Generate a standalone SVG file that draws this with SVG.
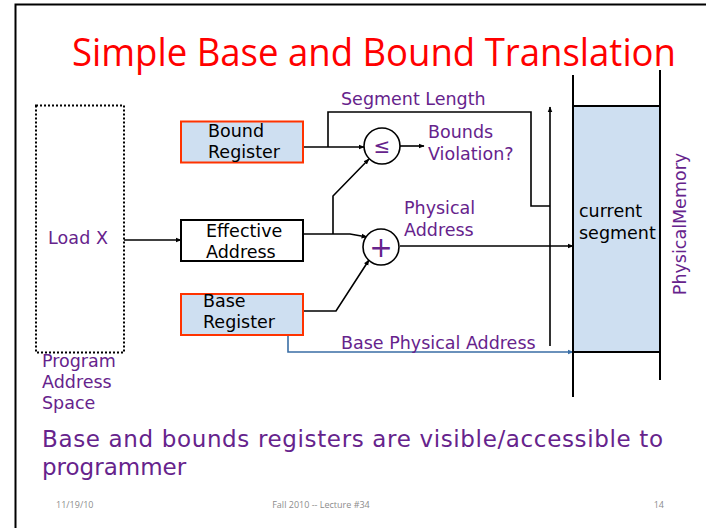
<svg xmlns="http://www.w3.org/2000/svg" width="706" height="528" viewBox="0 0 706 528">
  <defs>
    <marker id="arrow" viewBox="0 0 10 10" refX="9" refY="5" markerWidth="6" markerHeight="6" orient="auto" markerUnits="userSpaceOnUse">
      <path d="M0,1 L10,5 L0,9 z" fill="#000"/>
    </marker>
    <marker id="arrow-blue" viewBox="0 0 10 10" refX="9" refY="5" markerWidth="6" markerHeight="6" orient="auto" markerUnits="userSpaceOnUse">
      <path d="M0,1 L10,5 L0,9 z" fill="#3A6EA5"/>
    </marker>
    <style>
      .frame { fill: none; stroke: #000; stroke-width: 2; }
      .title { font-family: "Open Sans", "Liberation Sans", sans-serif; font-size: 38px; fill: #FF0000; }
      .lbl { font-family: "DejaVu Sans", Verdana, sans-serif; font-size: 17.5px; fill: #66238C; }
      .txt { font-family: "DejaVu Sans", Verdana, sans-serif; font-size: 17.5px; fill: #000; }
      .sym { font-family: "DejaVu Sans", Verdana, sans-serif; fill: #66238C; text-anchor: middle; }
      .body { font-family: "DejaVu Sans", Verdana, sans-serif; font-size: 23px; fill: #66238C; }
      .foot { font-family: "Open Sans", "Liberation Sans", sans-serif; font-size: 9px; fill: #8C8C8C; }
      .reg { fill: #CEDFF1; stroke: #FF3300; stroke-width: 2; }
      .box { fill: #fff; stroke: #000; stroke-width: 2; }
      .wire { fill: none; stroke: #000; stroke-width: 1.6; }
      .op { fill: #fff; stroke: #000; stroke-width: 1.6; }
      .mem { fill: none; stroke: #000; stroke-width: 2; }
    </style>
  </defs>

  <!-- slide frame -->
  <path class="frame" d="M15.5,528 V4.5 H706"/>

  <text class="title" x="72" y="66" textLength="604" lengthAdjust="spacingAndGlyphs">Simple Base and Bound Translation</text>

  <!-- connectors -->
  <g id="connectors">
    <!-- Load X to effective address -->
    <line class="wire" x1="124" y1="240" x2="181" y2="240" marker-end="url(#arrow)"/>
    <!-- bound register to comparator -->
    <line class="wire" x1="303" y1="147" x2="364" y2="147" marker-end="url(#arrow)"/>
    <!-- segment length path to memory bound -->
    <polyline class="wire" points="328,147 328,112 531,112 531,206 550,206"/>
    <!-- upward arrow along memory segment -->
    <line class="wire" x1="550" y1="346" x2="550" y2="107" marker-end="url(#arrow)"/>
    <!-- comparator output -->
    <line class="wire" x1="400" y1="146" x2="424" y2="146" marker-end="url(#arrow)"/>
    <!-- effective address to adder -->
    <polyline class="wire" points="303,234 350,234 367,237" marker-end="url(#arrow)"/>
    <!-- effective address branch to comparator -->
    <polyline class="wire" points="333,234 333,196 369,159" marker-end="url(#arrow)"/>
    <!-- base register to adder -->
    <polyline class="wire" points="303,311 336,311 369,260" marker-end="url(#arrow)"/>
    <!-- adder output to memory -->
    <line class="wire" x1="400" y1="246" x2="573" y2="246" marker-end="url(#arrow)"/>
    <!-- base physical address -->
    <polyline points="288,335 288,352 573,352" fill="none" stroke="#3A6EA5" stroke-width="1.6" marker-end="url(#arrow-blue)"/>
  </g>

  <!-- program address space -->
  <g id="program-space">
    <rect x="36" y="105.5" width="88" height="247" fill="none" stroke="#000" stroke-width="2" stroke-dasharray="2,2"/>
    <text class="lbl" x="48" y="244" textLength="60">Load X</text>
    <text class="lbl" x="42" y="367">Program</text>
    <text class="lbl" x="42" y="388">Address</text>
    <text class="lbl" x="42" y="409">Space</text>
  </g>

  <g id="bound-register">
    <rect class="reg" x="181" y="121.5" width="122" height="41"/>
    <text class="txt" x="208" y="137">Bound</text>
    <text class="txt" x="208" y="158">Register</text>
  </g>

  <g id="effective-address">
    <rect class="box" x="181" y="220" width="122" height="41"/>
    <text class="txt" x="206" y="237">Effective</text>
    <text class="txt" x="206" y="258">Address</text>
  </g>

  <g id="base-register">
    <rect class="reg" x="181" y="294" width="122" height="41"/>
    <text class="txt" x="203" y="307">Base</text>
    <text class="txt" x="203" y="328">Register</text>
  </g>

  <g id="comparator">
    <circle class="op" cx="382" cy="146" r="18"/>
    <text class="sym" x="382" y="153" style="font-size:20px">≤</text>
  </g>

  <g id="adder">
    <circle class="op" cx="381" cy="247" r="18"/>
    <text class="sym" x="381" y="257" style="font-size:28px">+</text>
  </g>

  <g id="labels">
    <text class="lbl" x="341" y="105">Segment Length</text>
    <text class="lbl" x="428" y="138">Bounds</text>
    <text class="lbl" x="428" y="160">Violation?</text>
    <text class="lbl" x="404" y="214">Physical</text>
    <text class="lbl" x="404" y="236">Address</text>
    <text class="lbl" x="341" y="349">Base Physical Address</text>
  </g>

  <!-- physical memory -->
  <g id="physical-memory">
    <rect x="573" y="106" width="87" height="246" fill="#CEDFF1"/>
    <line class="mem" x1="573" y1="106" x2="660" y2="106"/>
    <line class="mem" x1="573" y1="352" x2="659" y2="352"/>
    <line class="mem" x1="573" y1="75" x2="573" y2="397"/>
    <line class="mem" x1="660" y1="70" x2="660" y2="380"/>
    <text class="txt" x="579" y="217">current</text>
    <text class="txt" x="579" y="239">segment</text>
    <text class="lbl" transform="translate(686,224) rotate(-90)" text-anchor="middle">PhysicalMemory</text>
  </g>

  <text class="body" x="42" y="447" textLength="621">Base and bounds registers are visible/accessible to</text>
  <text class="body" x="42" y="475">programmer</text>

  <text class="foot" x="56" y="508">11/19/10</text>
  <text class="foot" x="321" y="508" text-anchor="middle">Fall 2010 -- Lecture #34</text>
  <text class="foot" x="664" y="508" text-anchor="end">14</text>
</svg>
